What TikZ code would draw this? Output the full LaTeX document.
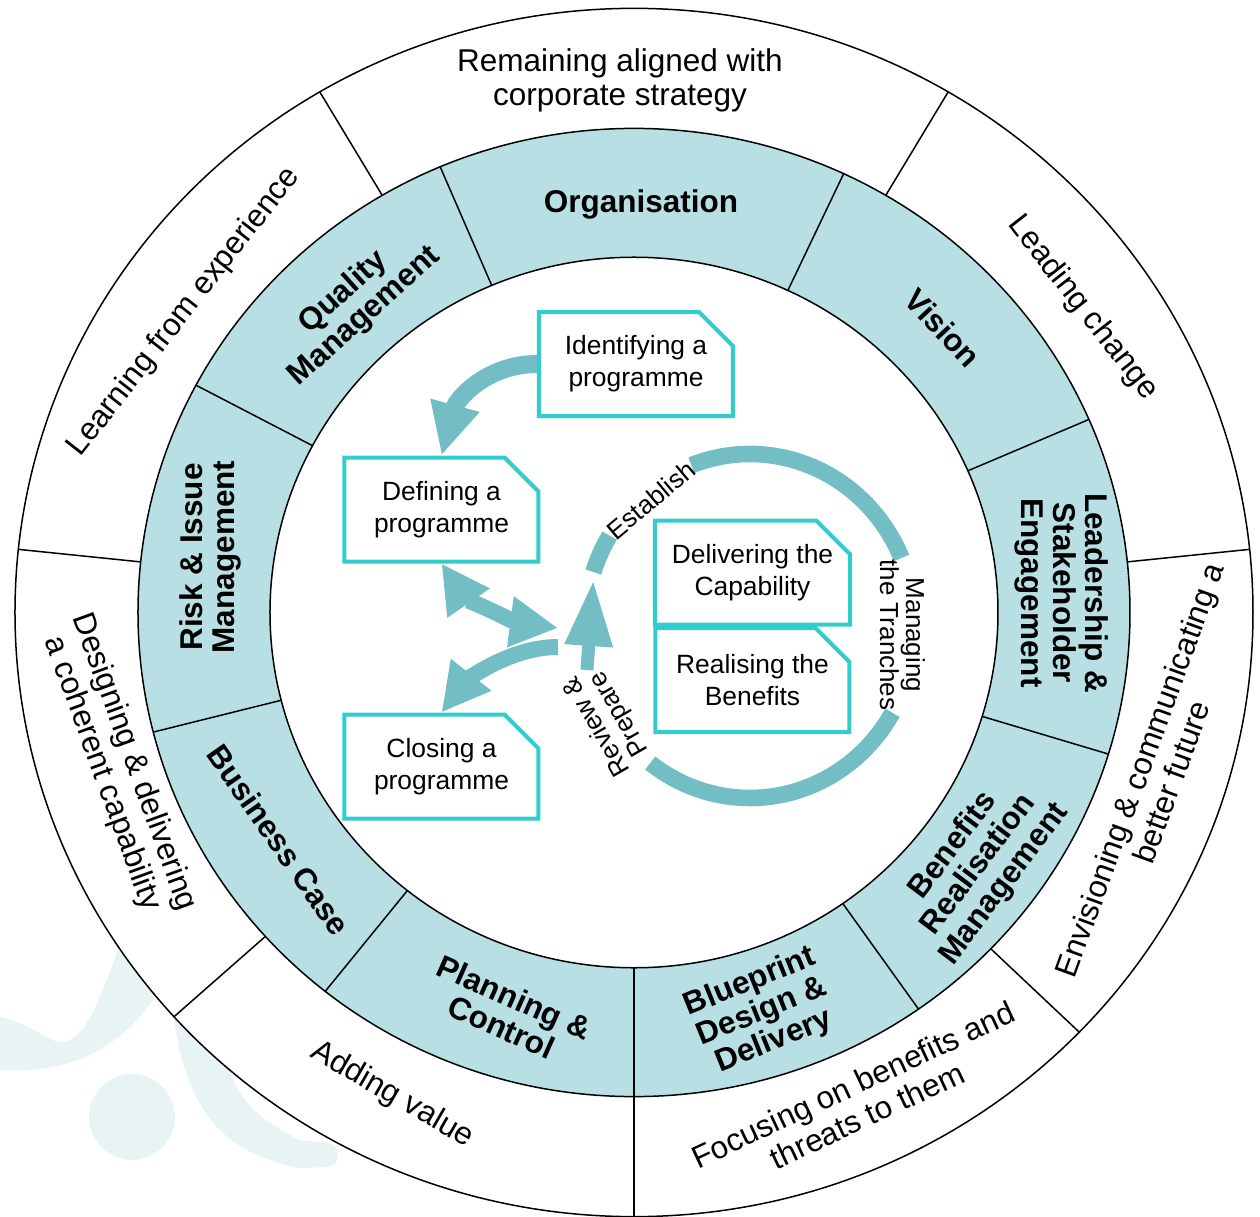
\documentclass[tikz,border=0pt]{standalone}
\usepackage{fontspec}
\setmainfont{Liberation Sans}
\usepackage{tikz}
\usetikzlibrary{arrows.meta}
\usetikzlibrary{shapes.misc}

\definecolor{ringfill}{RGB}{184,224,228}
\definecolor{boxline}{RGB}{51,204,204}
\definecolor{flowcol}{RGB}{114,190,196}
\definecolor{markcol}{RGB}{232,244,244}

\begin{document}
\begin{tikzpicture}[x=0.5pt, y=0.5pt,
        ring/.style={line width=0.75pt},
        outerlabel/.style={font=\fontsize{15.75}{17}\selectfont, align=center, inner sep=0pt},
        midlabel/.style={font=\bfseries\fontsize{15.75}{16}\selectfont, align=center, inner sep=0pt},
        cyclelabel/.style={font=\fontsize{13}{13}\selectfont, align=center, inner sep=0pt},
        stage/.style={chamfered rectangle, chamfered rectangle corners=north east,
            chamfered rectangle xsep=8.5pt, chamfered rectangle ysep=8.5pt, inner xsep=0pt,
            draw=boxline, line width=2pt, fill=white, minimum width=97pt, minimum height=52pt,
            font=\fontsize{13.2}{16}\selectfont, align=center},
        flow/.style={draw=flowcol, line width=8pt},
        band/.style={draw=flowcol, line width=8.3pt}]
        \useasboundingbox (-634, -604.5) rectangle (626, 612.5);

        \fill[markcol] (-502, -504.5) circle (43);
        \fill[markcol] (-634, -404.2) .. controls (-599, -412.5) and (-584, -432.5) .. (-569, -429.5)
            .. controls (-544, -422.5) and (-529, -372.5) .. (-509, -317.5) -- (-459, -347.5)
            .. controls (-494, -427.5) and (-554, -462.5) .. (-634, -457.5) -- cycle;
        \fill[markcol] (-464, -377.5) .. controls (-454, -467.5) and (-434, -537.5) .. (-334, -555.5) -- (-306, -554.5)
            .. controls (-294, -552.5) and (-292, -533.5) .. (-306, -530.5) -- (-334, -527.5)
            .. controls (-384, -502.5) and (-409, -477.5) .. (-409, -417.5) -- cycle;

        \begin{scope}[yscale=0.976]
        \draw[ring, fill=white] (0, 0) circle (619);
        \draw[ring, fill=ringfill] (0, 0) circle (496);
        \draw[ring, fill=white] (0, 0) circle (364);
        \draw[ring] (65:364) -- (65:496);
        \draw[ring] (113:364) -- (113:496);
        \draw[ring] (152:364) -- (152:496);
        \draw[ring] (194.3:364) -- (194.3:496);
        \draw[ring] (231.5:364) -- (231.5:496);
        \draw[ring] (270:364) -- (270:496);
        \draw[ring] (305:364) -- (305:496);
        \draw[ring] (343:364) -- (343:496);
        \draw[ring] (23.5:364) -- (23.5:496);
        \draw[ring] (6:496) -- (6:619);
        \draw[ring] (59.5:496) -- (59.5:619);
        \draw[ring] (120.5:496) -- (120.5:619);
        \draw[ring] (174:496) -- (174:619);
        \draw[ring] (222:496) -- (222:619);
        \draw[ring] (270:496) -- (270:619);
        \draw[ring] (316:496) -- (316:619);
        \end{scope}

        \draw (-14, 532) node[outerlabel] (remain) {Remaining aligned with\\corporate strategy};
        \draw (449, 304.5) node[outerlabel, rotate=-52] (leadchange) {Leading change};
        \draw (521, -163.5) node[outerlabel, rotate=70] (envision) {Envisioning \& communicating a\\better future};
        \draw (226, -487.5) node[outerlabel, rotate=25] (focus) {Focusing on benefits and\\threats to them};
        \draw (-242, -482.5) node[outerlabel, rotate=-30] (addval) {Adding value};
        \draw (-516, -155.5) node[outerlabel, rotate=-70] (designing) {Designing \& delivering\\a coherent capability};
        \draw (-450, 300.5) node[outerlabel, rotate=52] (learning) {Learning from experience};

        \draw (7, 408.5) node[midlabel] (org) {Organisation};
        \draw (309, 284.5) node[midlabel, rotate=-47] (vision) {Vision};
        \draw (428, 19.5) node[midlabel, rotate=-90] (leader) {Leadership \&\\Stakeholder\\Engagement};
        \draw (345, -252.5) node[midlabel, rotate=53] (benefits) {Benefits\\Realisation\\Management};
        \draw (128, -399.5) node[midlabel, rotate=22] (blueprint) {Blueprint\\Design \&\\Delivery};
        \draw (-126, -399.5) node[midlabel, rotate=-24] (planning) {Planning \&\\Control};
        \draw (-355, -227.5) node[midlabel, rotate=-55] (bcase) {Business Case};
        \draw (-424, 55.5) node[midlabel, rotate=90] (risk) {Risk \& Issue\\Management};
        \draw (-280, 308) node[midlabel, rotate=42] (quality) {Quality\\Management};

        \coordinate (cyc) at (116, -13.5);
        \draw[band] (cyc) ++(110.8:165 and 172) arc[start angle=110.8, end angle=23.3, x radius=165, y radius=172];
        \draw[band] (cyc) ++(-30.3:165 and 172) arc[start angle=-30.3, end angle=-127.2, x radius=165, y radius=172];
        \draw[band] (cyc) ++(161.7:165 and 172) arc[start angle=161.7, end angle=148.3, x radius=165, y radius=172];
        \draw (17, 112.5) node[cyclelabel, rotate=40] (establish) {Establish};
        \draw (268.5, -22.5) node[cyclelabel, rotate=-90] (tranches) {Managing\\the Tranches};
        \draw (-25.5, -107.5) node[cyclelabel, rotate=120] (review) {Review \&\\Prepare};

        \draw (2, 248.5) node[stage] (idb) {Identifying a\\programme};
        \draw (-192.5, 103) node[stage] (def) {Defining a\\programme};
        \draw (118.5, 40) node[stage] (del) {Delivering the\\Capability};
        \draw (118.5, -67.5) node[stage] (rea) {Realising the\\Benefits};
        \draw (-192.5, -154) node[stage] (clo) {Closing a\\programme};

        \coordinate (hubin) at (-76, -15.5);
        \coordinate (hubout) at (-76, -34.5);
        \coordinate (rpfoot) at (-47, -57.5);
        \coordinate (estfoot) at (-40.7, 32.5);
        \draw[flow, line width=9pt, -{Triangle[width=23.5pt, length=26pt]}] (idb.west) .. controls (-146, 248.5) and (-177, 214.5) .. (def.north);
        \draw[flow, {Triangle[width=24pt, length=24pt]}-{Triangle[width=24pt, length=24pt]}] (def.south) .. controls (-169, 14.7) and (-115.7, -10.3) .. (hubin);
        \draw[flow, -{Triangle[width=24pt, length=24pt]}] (hubout) .. controls (-126, -34.5) and (-169, -70.1) .. (clo.north);
        \draw[flow, line width=6.5pt, -{Triangle[width=22.5pt, length=33pt]}] (rpfoot) -- (estfoot);
\end{tikzpicture}
\end{document}
